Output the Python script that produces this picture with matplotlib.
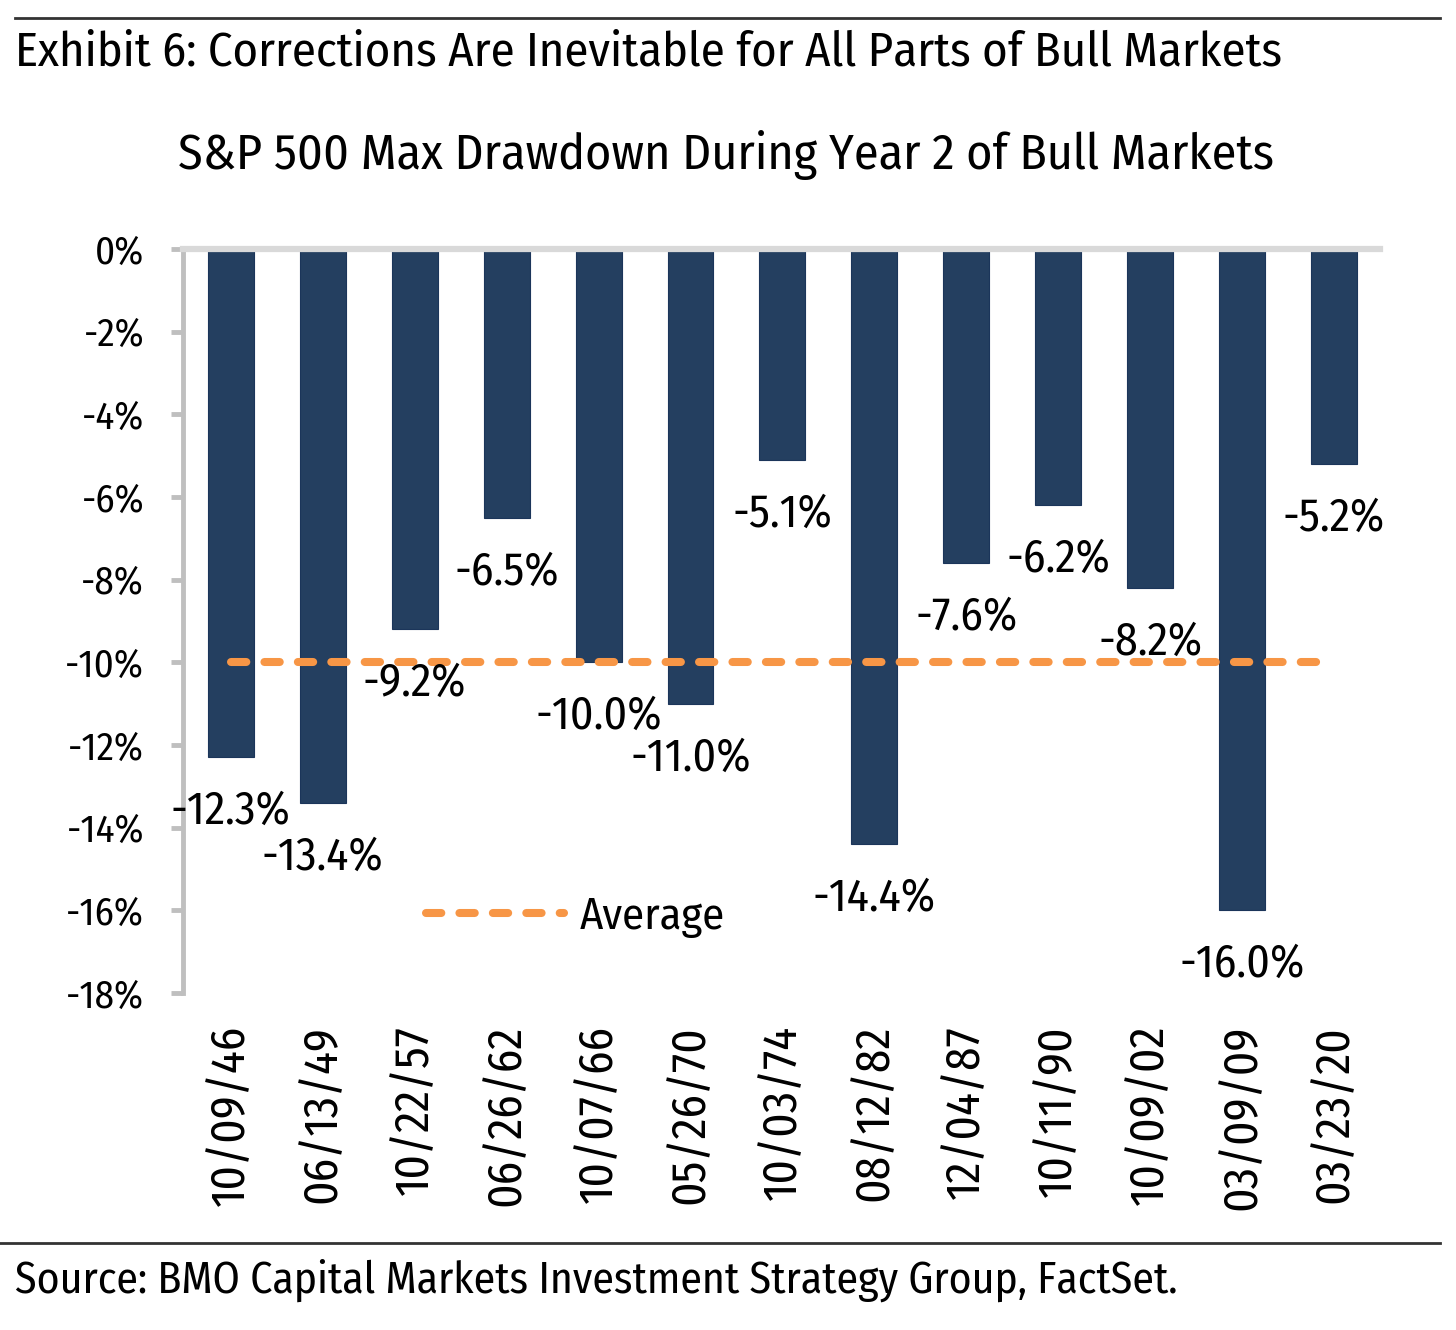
import matplotlib
matplotlib.use('Agg')
import matplotlib.pyplot as plt
from matplotlib.lines import Line2D
import numpy as np

plt.rcParams['font.family'] = ['Fira Sans Condensed', 'DejaVu Sans']

# data
dates = ['10/09/46', '06/13/49', '10/22/57', '06/26/62', '10/07/66', '05/26/70',
         '10/03/74', '08/12/82', '12/04/87', '10/11/90', '10/09/02', '03/09/09', '03/23/20']
drawdown = [-12.3, -13.4, -9.2, -6.5, -10.0, -11.0, -5.1, -14.4, -7.6, -6.2, -8.2, -16.0, -5.2]
average = -10.0
yticks = [0, -2, -4, -6, -8, -10, -12, -14, -16, -18]

bar_color = '#243F60'
avg_color = '#F79646'
axis_gray = '#BFBFBF'

fig = plt.figure(figsize=(14.56, 13.30), dpi=100)
ax = fig.add_axes([183 / 1456, 1 - 993 / 1330, 1197 / 1456, 744 / 1330])

x = np.arange(len(dates))
ax.bar(x, drawdown, width=0.5, color=bar_color, edgecolor='#1B355A', linewidth=0.8, zorder=2)

# average line, from first bar centre to last
ax.plot([x[0], x[-1]], [average, average], color=avg_color, linewidth=5.8,
        dashes=(1.9, 2.25), dash_capstyle='round', zorder=3)

for xi, v in zip(x, drawdown):
    ax.annotate(f'{v:.1f}%', xy=(xi, v), xytext=(0, -39), textcoords='offset points',
                ha='center', va='center', fontsize=33, color='black')

ax.set_xlim(-0.52, 12.5)
ax.set_ylim(-18, 0)
ax.set_yticks(yticks)
ax.set_yticklabels([f'{t}%' for t in yticks], fontsize=28)
ax.set_xticks(x)
ax.set_xticklabels(dates, rotation=90, fontsize=34)
ax.tick_params(axis='x', length=0, pad=23)
ax.tick_params(axis='y', length=9, width=3.5, color=axis_gray, pad=19)

for s in ['right', 'bottom']:
    ax.spines[s].set_visible(False)
ax.spines['left'].set_color(axis_gray)
ax.spines['left'].set_linewidth(3.5)
ax.spines['top'].set_color('#D9D9D9')
ax.spines['top'].set_linewidth(4.5)
ax.spines['top'].set_zorder(4)

handle = Line2D([0], [0], color=avg_color, linewidth=5.8, dashes=(1.9, 2.25),
                dash_capstyle='round')
ax.legend([handle], ['Average'], loc='center left', frameon=False, fontsize=32,
          handlelength=3.1, handletextpad=0.35, borderpad=0, borderaxespad=0,
          bbox_to_anchor=(426 / 1456, 1 - 917 / 1330), bbox_transform=fig.transFigure)

# header / footer
fig.add_artist(Line2D([15 / 1456, 1440 / 1456], [1 - 18 / 1330] * 2, color='#333333', linewidth=2))
fig.add_artist(Line2D([0, 1440 / 1456], [1 - 1243 / 1330] * 2, color='#333333', linewidth=2))
fig.text(15 / 1456, 1 - 52 / 1330, 'Exhibit 6: Corrections Are Inevitable for All Parts of Bull Markets',
         fontsize=35, va='center', ha='left')
fig.text(726 / 1456, 1 - 155 / 1330, 'S&P 500 Max Drawdown During Year 2 of Bull Markets',
         fontsize=36, va='center', ha='center')
fig.text(15 / 1456, 1 - 1280 / 1330, 'Source: BMO Capital Markets Investment Strategy Group, FactSet.',
         fontsize=31.5, va='center', ha='left')

fig.savefig('out.png', dpi=100, facecolor='white')
